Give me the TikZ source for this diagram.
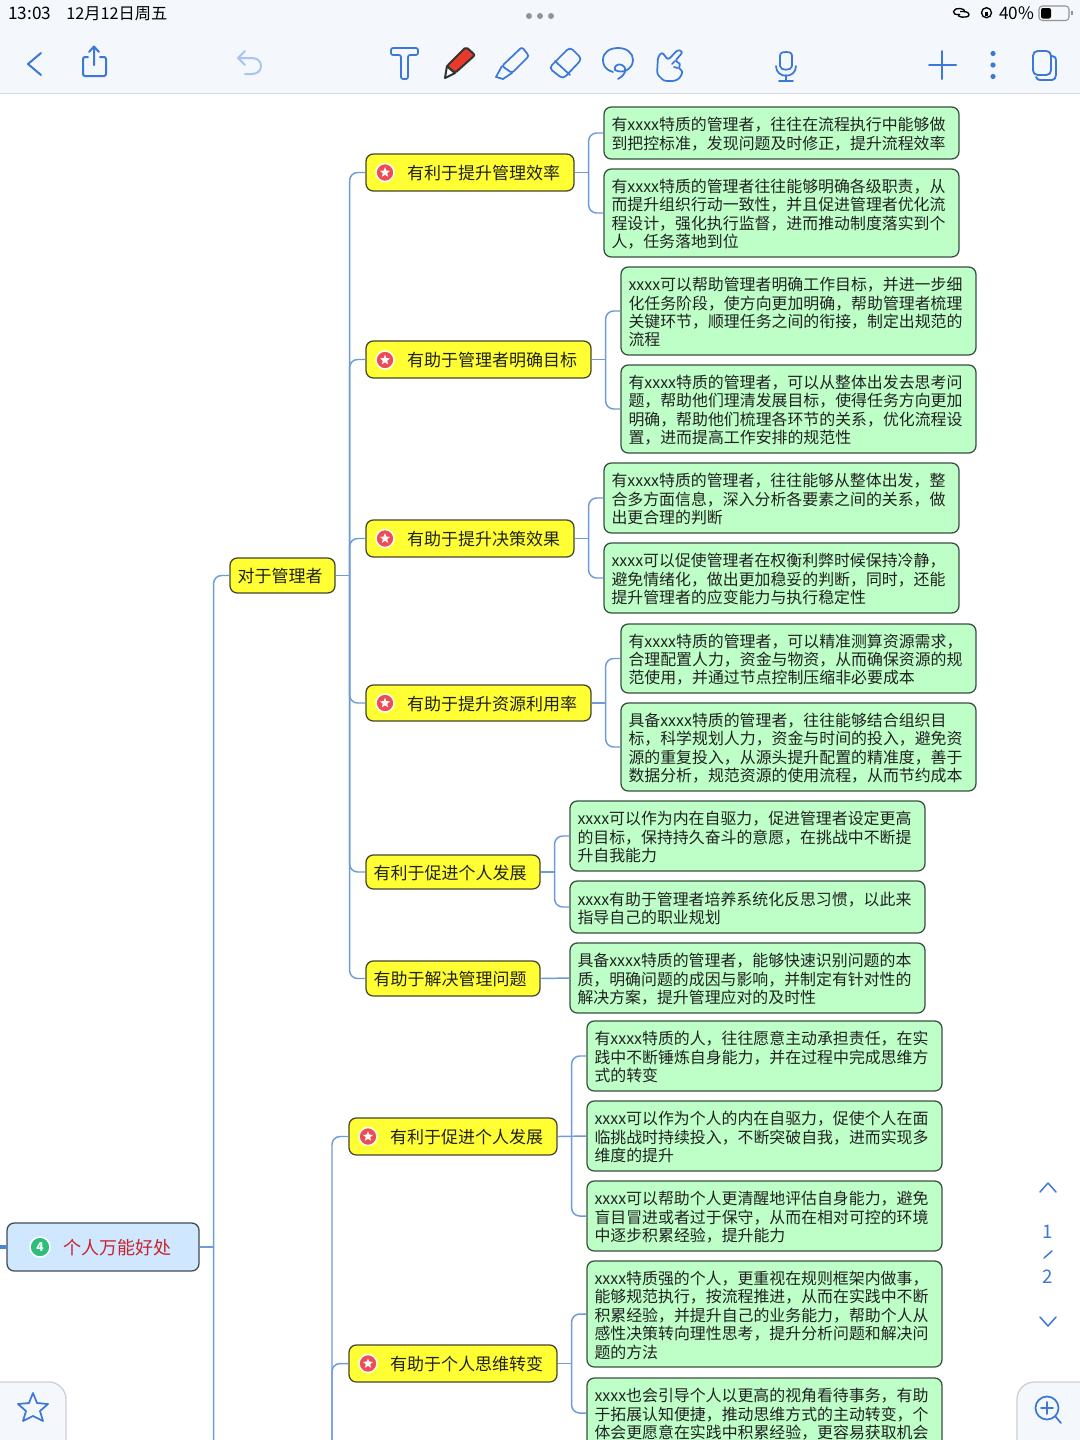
\documentclass[tikz,border=0pt]{standalone}
\usepackage{fontspec}
\setmainfont{Noto Sans CJK SC}
\usetikzlibrary{shapes.geometric,calc}
\definecolor{uiblue}{HTML}{3B78D8}
\definecolor{undoblue}{HTML}{A9C4EE}
\definecolor{linkblue}{HTML}{6F9BD8}
\definecolor{stubblue}{HTML}{4A86D8}
\definecolor{headbg}{HTML}{F4F7FB}
\definecolor{headline}{HTML}{D5D9E0}
\definecolor{leaffill}{HTML}{BEFFC8}
\definecolor{leafedge}{HTML}{3A4F42}
\definecolor{midfill}{HTML}{FFFF33}
\definecolor{midedge}{HTML}{46462E}
\definecolor{rootfill}{HTML}{CFE8FF}
\definecolor{rootedge}{HTML}{3F4A55}
\definecolor{roottext}{HTML}{C8232C}
\definecolor{inktext}{HTML}{222222}
\definecolor{iconred}{HTML}{EF4B55}
\definecolor{icongreen}{HTML}{2DBE7B}
\definecolor{panelline}{HTML}{CDD1D6}
\definecolor{penred}{HTML}{E83A2A}
\definecolor{pendark}{HTML}{333333}
\tikzset{
  boxbase/.style={rounded corners=5.5pt,line width=0.95pt,inner ysep=0pt,inner xsep=5.6pt,align=left,text=inktext},
  leafbox/.style={boxbase,draw=leafedge,fill=leaffill,font=\fontsize{11.93}{13.8}\selectfont},
  midbox/.style={boxbase,draw=midedge,fill=midfill,font=\fontsize{12.75}{15}\selectfont},
  rootbox/.style={boxbase,draw=rootedge,fill=rootfill,text=roottext,font=\fontsize{13.5}{16}\selectfont},
  conn/.style={draw=linkblue,line width=1.1pt},
  connr/.style={conn,rounded corners=6pt},
  uiline/.style={draw=uiblue,line width=1.5pt,line cap=round,line join=round},
  thinui/.style={uiline,line width=1.3pt},
  statustext/.style={inner sep=0pt,anchor=west,text=black,font=\fontsize{12.2}{14}\selectfont},
  statuswide/.style={statustext,font=\fontsize{12.9}{14}\selectfont},
  pagetext/.style={inner sep=0pt,text=uiblue,font=\fontsize{14}{16}\selectfont},
  redicon/.style={circle,draw=white,fill=iconred,line width=1.1pt,minimum size=13.5pt,inner sep=0pt},
  staricon/.style={star,star points=5,star point ratio=2.3,fill=white,minimum size=8pt,inner sep=0pt},
}
% leaf box: name, x1,y1,x2,y2, lines
\newcommand{\leafnode}[6]{%
  \pgfmathsetlengthmacro{\boxw}{(#4-#2-15)*0.75pt}%
  \pgfmathsetlengthmacro{\boxow}{(#4-#2)*0.75pt}%
  \pgfmathsetlengthmacro{\boxoh}{(#5-#3)*0.75pt}%
  \node[leafbox,text width=\boxw,minimum width=\boxow,minimum height=\boxoh] (#1) at ({(#2+#4)/2},{(#3+#5)/2}) {\rule{0pt}{11.8pt}#6};}
% mid box: name, x1,y1,x2,y2, left pad (pt), text
\newcommand{\midnode}[7]{%
  \pgfmathsetlengthmacro{\boxw}{(#4-#2-15)*0.75pt}%
  \pgfmathsetlengthmacro{\boxow}{(#4-#2)*0.75pt}%
  \pgfmathsetlengthmacro{\boxoh}{(#5-#3)*0.75pt}%
  \node[midbox,text width=\boxw,minimum width=\boxow,minimum height=\boxoh] (#1) at ({(#2+#4)/2},{(#3+#5)/2}) {\rule{0pt}{12.2pt}\hspace*{#6}#7};}
\newcommand{\redmark}[3]{%
  \node[redicon] (#1) at (#2,#3) {};
  \node[staricon] (#1s) at (#2,#3) {};}
% connector: parent east -> spine -> child west
\newcommand{\stub}[1]{\draw[conn] (#1.east) -- ++(14,0);}
\newcommand{\link}[2]{\draw[connr] (#1.east) ++(14,0) |- (#2.west);}
\begin{document}
\begin{tikzpicture}[x=0.75pt,y=-0.75pt]
\useasboundingbox (0,0) rectangle (1080,1440);
\clip (0,0) rectangle (1080,1440);
\fill[white] (0,0) rectangle (1080,1440);

% header
\fill[headbg] (0,0) rectangle (1080,93);
\draw[headline,line width=1pt] (0,93.5) -- (1080,93.5);
\node[statuswide] (clock) at (8,13.5) {13:03};
\node[statustext] (dateline) at (66,13.5) {12月12日周五};
\node[statuswide] (battpct) at (999,13.5) {40\%};
\fill[gray!85] (529,16) circle (3) (540,16) circle (3) (551,16) circle (3);
% status icons
\draw[black,line width=1pt] (960,14.5) .. controls (955,15) and (953,13.5) .. (953.5,11.5) .. controls (954,9) and (957,8.3) .. (960,8.5) .. controls (963,8.5) and (965,10) .. (965,12);
\draw[black,line width=1pt] (960,11.5) .. controls (964,11) and (969,12) .. (969,14.5) .. controls (969,17) and (965,17.3) .. (962,17.2) .. controls (959,17) and (958,15.5) .. (958,14);
\draw[black,line width=1pt] (986.5,12.7) circle (5);
\fill[black] (984.7,11.5) rectangle (988.3,15.5);
\draw[gray!85,line width=0.8pt,rounded corners=2.5pt] (1039,6) rectangle (1069,20.5);
\fill[black,rounded corners=1.5pt] (1041,8) rectangle (1051,18.5);
\fill[gray!85] (1071,11) rectangle (1072.5,15);

% toolbar
\draw[uiline] (41,53) -- (28,64) -- (41,75);
\draw[uiline,rounded corners=1.5pt] (88,57) -- (83,57) -- (83,76) -- (106,76) -- (106,57) -- (100,57);
\draw[uiline] (94,46.5) -- (94,65) (89,52) -- (94,46.5) -- (99,52);
\draw[draw=undoblue,line width=1.5pt,line cap=round,line join=round] (245,51) -- (238,58) -- (245,65) (238,58) -- (252,58) .. controls (264,58) and (264,74) .. (252,74) -- (245,74);
\draw[thinui,rounded corners=1.5pt] (391,48) -- (418,48) -- (418,55) -- (408,55) -- (408,79) -- (401,79) -- (401,55) -- (391,55) -- cycle;
\draw[draw=pendark,fill=white,line width=1.5pt,line join=round] (447,66) -- (455,73) -- (445,78) -- cycle;
\draw[draw=pendark,fill=penred,line width=1.5pt,line join=round,rounded corners=1.5pt] (466,47) -- (475,55) -- (455,73) -- (447,66) -- cycle;
\draw[thinui,rounded corners=1.8pt] (522,47) -- (529,56) -- (512,73) -- (502,66) -- cycle;
\draw[thinui] (502,66) -- (496,77) -- (503,79) -- (512,73);
\draw[thinui,rounded corners=3pt] (570,47) -- (582,59) -- (563,79) -- (549,68) -- cycle;
\draw[thinui] (555,61) -- (570,75);
\draw[thinui] (613,72) .. controls (603,69) and (603,62) .. (603,60) .. controls (603,52) and (610,48) .. (618,48) .. controls (627,48) and (633,53) .. (633,60) .. controls (633,65) and (630,68) .. (627,70) .. controls (624,72) and (618,72) .. (615,70) .. controls (613,66) and (619,63) .. (622,65) .. controls (627,67) and (627,74) .. (618,79);
\draw[thinui,rounded corners=2pt] (668,60) -- (678,49.5) -- (683,52) -- (675,61) -- (681,64) -- (678,68) -- (683,71) -- (680,78) -- (675,81) -- (664,81) -- (657,74) -- (658,57) -- (662,52) -- cycle;
\draw[thinui] (675,61) -- (672,64) (678,68) -- (674,67);
\draw[thinui] (786,52) .. controls (780,52) and (780,54) .. (780,58) -- (780,66) .. controls (780,71) and (792,71) .. (792,66) -- (792,58) .. controls (792,54) and (792,52) .. (786,52) -- cycle;
\draw[thinui] (776,66) .. controls (776,79) and (796,79) .. (796,66) (786,75) -- (786,81) (779,81) -- (793,81);
\draw[uiline] (929,65) -- (956,65) (942,51) -- (942,79);
\fill[uiblue] (993,53.5) circle (2.6) (993,65) circle (2.6) (993,76.5) circle (2.6);
\draw[uiline,rounded corners=3.5pt,line width=1.4pt] (1033,51) rectangle (1051,75);
\draw[uiline,line width=1.4pt] (1052,56) .. controls (1055,56) and (1056,58) .. (1056,60) -- (1056,75) .. controls (1056,78) and (1054,80) .. (1052,80) -- (1040,80) .. controls (1038,80) and (1037,79) .. (1036,77);

% leaves
\leafnode{la}{604}{107}{959}{159}{有xxxx特质的管理者，往往在流程执行中能够做\\到把控标准，发现问题及时修正，提升流程效率}
\leafnode{lb}{604}{169}{959}{257}{有xxxx特质的管理者往往能够明确各级职责，从\\而提升组织行动一致性，并且促进管理者优化流\\程设计，强化执行监督，进而推动制度落实到个\\人，任务落地到位}
\leafnode{lc}{621}{267}{976}{355}{xxxx可以帮助管理者明确工作目标，并进一步细\\化任务阶段，使方向更加明确，帮助管理者梳理\\关键环节，顺理任务之间的衔接，制定出规范的\\流程}
\leafnode{ld}{621}{365}{976}{453}{有xxxx特质的管理者，可以从整体出发去思考问\\题，帮助他们理清发展目标，使得任务方向更加\\明确，帮助他们梳理各环节的关系，优化流程设\\置，进而提高工作安排的规范性}
\leafnode{le}{604}{463}{959}{533}{有xxxx特质的管理者，往往能够从整体出发，整\\合多方面信息，深入分析各要素之间的关系，做\\出更合理的判断}
\leafnode{lf}{604}{543}{959}{613}{xxxx可以促使管理者在权衡利弊时候保持冷静，\\避免情绪化，做出更加稳妥的判断，同时，还能\\提升管理者的应变能力与执行稳定性}
\leafnode{lg}{621}{624}{976}{693}{有xxxx特质的管理者，可以精准测算资源需求，\\合理配置人力，资金与物资，从而确保资源的规\\范使用，并通过节点控制压缩非必要成本}
\leafnode{lh}{621}{703}{976}{791}{具备xxxx特质的管理者，往往能够结合组织目\\标，科学规划人力，资金与时间的投入，避免资\\源的重复投入，从源头提升配置的精准度，善于\\数据分析，规范资源的使用流程，从而节约成本}
\leafnode{li}{570}{801}{925}{871}{xxxx可以作为内在自驱力，促进管理者设定更高\\的目标，保持持久奋斗的意愿，在挑战中不断提\\升自我能力}
\leafnode{lj}{570}{881}{925}{933}{xxxx有助于管理者培养系统化反思习惯，以此来\\指导自己的职业规划}
\leafnode{lk}{570}{943}{925}{1013}{具备xxxx特质的管理者，能够快速识别问题的本\\质，明确问题的成因与影响，并制定有针对性的\\解决方案，提升管理应对的及时性}
\leafnode{ll}{587}{1021}{942}{1091}{有xxxx特质的人，往往愿意主动承担责任，在实\\践中不断锤炼自身能力，并在过程中完成思维方\\式的转变}
\leafnode{lm}{587}{1101}{942}{1171}{xxxx可以作为个人的内在自驱力，促使个人在面\\临挑战时持续投入，不断突破自我，进而实现多\\维度的提升}
\leafnode{ln}{587}{1181}{942}{1251}{xxxx可以帮助个人更清醒地评估自身能力，避免\\盲目冒进或者过于保守，从而在相对可控的环境\\中逐步积累经验，提升能力}
\leafnode{lo}{587}{1261}{942}{1367}{xxxx特质强的个人，更重视在规则框架内做事，\\能够规范执行，按流程推进，从而在实践中不断\\积累经验，并提升自己的业务能力，帮助个人从\\感性决策转向理性思考，提升分析问题和解决问\\题的方法}
\leafnode{lp}{587}{1378}{942}{1448}{xxxx也会引导个人以更高的视角看待事务，有助\\于拓展认知便捷，推动思维方式的主动转变，个\\体会更愿意在实践中积累经验，更容易获取机会}

% mid boxes
\midnode{ma}{366}{154}{574}{191}{25.2pt}{有利于提升管理效率}
\midnode{mb}{366}{341}{591}{378}{25.2pt}{有助于管理者明确目标}
\midnode{mc}{366}{520}{574}{557}{25.2pt}{有助于提升决策效果}
\midnode{md}{366}{685}{591}{721}{25.2pt}{有助于提升资源利用率}
\midnode{me}{366}{855}{540}{889}{0pt}{有利于促进个人发展}
\midnode{mf}{366}{961}{540}{996}{0pt}{有助于解决管理问题}
\midnode{top}{230}{558}{335}{593}{0pt}{对于管理者}
\midnode{mg}{349}{1118}{557}{1155}{25.2pt}{有利于促进个人发展}
\midnode{mh}{349}{1345}{557}{1382}{25.2pt}{有助于个人思维转变}
\redmark{ia}{385}{172.5}
\redmark{ib}{385}{360}
\redmark{ic}{385}{538.5}
\redmark{id}{385}{703}
\redmark{ig}{368}{1136.5}
\redmark{ih}{368}{1363.5}

% root
\pgfmathsetlengthmacro{\boxw}{(199-7-16)*0.75pt}
\node[rootbox,text width=\boxw,minimum width=144pt,minimum height=36pt] (root) at (103,1247) {\rule{0pt}{12.9pt}\hspace*{36pt}个人万能好处};
\node[circle,draw=white,fill=icongreen,line width=1.1pt,minimum size=15pt,inner sep=0pt,text=white,font=\fontsize{9}{9}\bfseries\selectfont] (rooticon) at (40,1247) {4};

% off-screen ends
\coordinate (rootin) at (0,1247);
\coordinate (rootlow) at (230,1500);
\coordinate (perhub) at (332,1500);

% connectors
\draw[draw=stubblue,line width=3.6pt] (rootin) -- (root.west);
\stub{root}
\link{root}{top}
\link{root}{rootlow}
\stub{top}
\foreach \c in {ma,mb,mc,md,me,mf} {\link{top}{\c}}
\stub{ma} \link{ma}{la} \link{ma}{lb}
\stub{mb} \link{mb}{lc} \link{mb}{ld}
\stub{mc} \link{mc}{le} \link{mc}{lf}
\stub{md} \link{md}{lg} \link{md}{lh}
\stub{me} \link{me}{li} \link{me}{lj}
\draw[conn] (mf.east) -- (lk.west);
\stub{mg} \link{mg}{ll} \draw[conn] (mg.east) -- (lm.west); \link{mg}{ln}
\stub{mh} \link{mh}{lo} \link{mh}{lp}
\draw[connr] (perhub) |- (mg.west);
\draw[connr] (perhub) |- (mh.west);

% page navigator
\draw[uiline,line width=1.1pt] (1040,1192) -- (1048,1183) -- (1056,1192);
\node[pagetext] (pageone) at (1048,1232) {1};
\draw[uiline,line width=1.1pt] (1044,1258) -- (1052,1251);
\node[pagetext] (pagetwo) at (1048,1277) {2};
\draw[uiline,line width=1.1pt] (1040,1317) -- (1048,1326) -- (1056,1317);

% bottom panels
\fill[headbg,rounded corners=13pt] (-20,1382) -- (66,1382) -- (66,1460) -- (-20,1460) -- cycle;
\draw[draw=panelline,line width=1pt,rounded corners=13pt] (-20,1382) -- (66,1382) -- (66,1460);
\draw[thinui] (33,1393) -- (37,1403) -- (48,1404) -- (40,1411) -- (43,1421) -- (33,1416) -- (23,1421) -- (26,1411) -- (18,1404) -- (29,1403) -- cycle;
\fill[headbg,rounded corners=13pt] (1100,1382) -- (1017,1382) -- (1017,1460) -- (1100,1460) -- cycle;
\draw[draw=panelline,line width=1pt,rounded corners=13pt] (1100,1382) -- (1017,1382) -- (1017,1460);
\draw[thinui] (1047,1408) circle (11.5) (1041,1408) -- (1053,1408) (1047,1402) -- (1047,1414) (1055,1416) -- (1061,1423);
\end{tikzpicture}
\end{document}
